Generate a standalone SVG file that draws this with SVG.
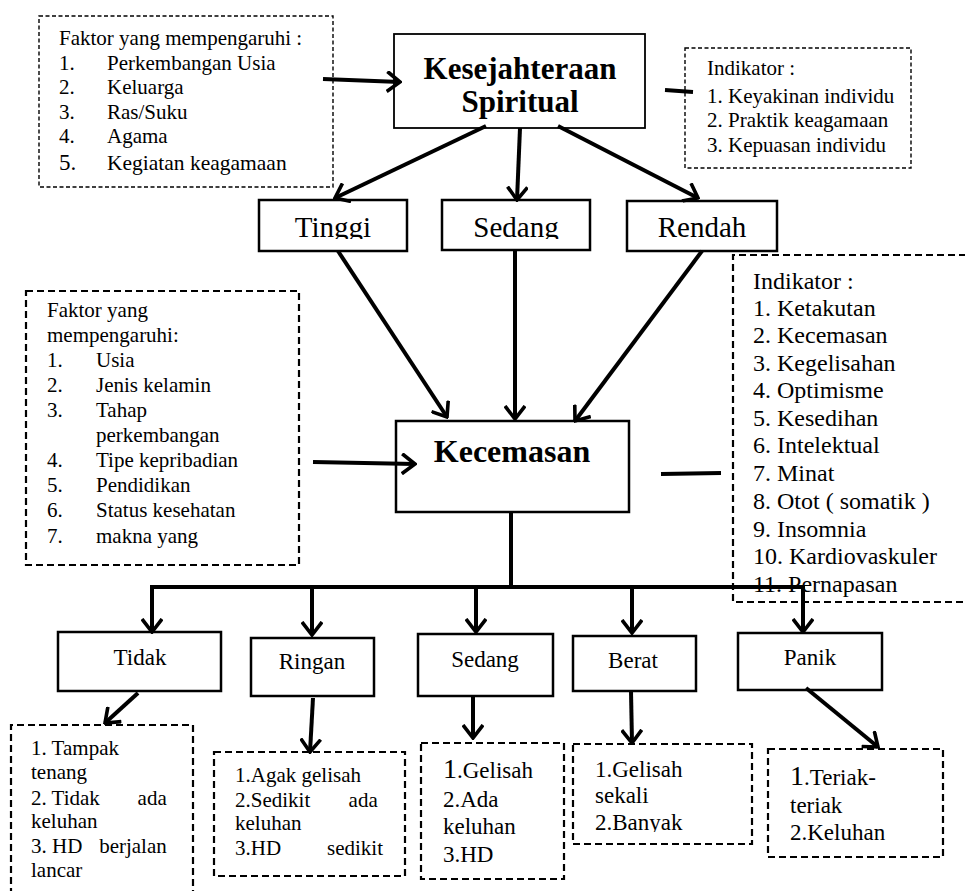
<svg xmlns="http://www.w3.org/2000/svg" width="965" height="891" viewBox="0 0 965 891">
<defs>
<style>
.t{font-family:"Liberation Serif","Times New Roman",serif;fill:#000}
.b{font-weight:bold}
.box{fill:#fff;stroke:#000;stroke-width:2.5}
.thin{stroke-width:1.8}
.dash{fill:none;stroke:#000;stroke-width:2.2;stroke-dasharray:7 4}
.fine{stroke-width:1.4;stroke-dasharray:4 2.5}
.c{fill:none;stroke:#000;stroke-width:4}
.a{marker-end:url(#ah)}
</style>
<marker id="ah" viewBox="0 0 16 22" refX="14" refY="11" markerWidth="16" markerHeight="22" markerUnits="userSpaceOnUse" orient="auto">
<path d="M1,1 L14,11 L1,21" fill="none" stroke="#000" stroke-width="3.6"/>
</marker>
<clipPath id="clipMid"><rect x="250" y="195" width="540" height="44"/></clipPath>
<clipPath id="clipBerat"><rect x="573" y="744" width="179" height="88"/></clipPath>
</defs>
<rect width="965" height="891" fill="#fff"/>

<g id="faktor-spiritual">
<rect class="dash fine" x="39" y="16" width="294" height="171"/>
<text class="t" font-size="21">
<tspan x="59" y="45">Faktor yang mempengaruhi :</tspan>
<tspan x="59" y="70">1.</tspan><tspan x="107" y="70">Perkembangan Usia</tspan>
<tspan x="59" y="94">2.</tspan><tspan x="107" y="94">Keluarga</tspan>
<tspan x="59" y="119">3.</tspan><tspan x="107" y="119">Ras/Suku</tspan>
<tspan x="59" y="143">4.</tspan><tspan x="107" y="143">Agama</tspan>
<tspan x="59" y="170" font-size="23">5.</tspan><tspan x="107" y="170" font-size="21.5">Kegiatan keagamaan</tspan>
</text>
</g>

<g id="kesejahteraan">
<rect class="box thin" x="394" y="34" width="251" height="94"/>
<text class="t b" font-size="31" text-anchor="middle"><tspan x="520" y="79">Kesejahteraan</tspan><tspan x="520" y="112">Spiritual</tspan></text>
</g>

<g id="indikator-spiritual">
<rect class="dash fine" x="685" y="48" width="226" height="120"/>
<text class="t" font-size="21">
<tspan x="707" y="75">Indikator :</tspan>
<tspan x="707" y="103">1. Keyakinan individu</tspan>
<tspan x="707" y="127">2. Praktik keagamaan</tspan>
<tspan x="707" y="152">3. Kepuasan individu</tspan>
</text>
</g>

<g id="tinggi">
<rect class="box" x="259" y="200" width="148" height="51"/>
<text class="t" font-size="29" text-anchor="middle" x="333" y="237" clip-path="url(#clipMid)">Tinggi</text>
</g>
<g id="sedang-spiritual">
<rect class="box" x="442" y="200" width="148" height="50"/>
<text class="t" font-size="29" text-anchor="middle" x="516" y="237" clip-path="url(#clipMid)">Sedang</text>
</g>
<g id="rendah">
<rect class="box" x="627" y="201" width="150" height="50"/>
<text class="t" font-size="29" text-anchor="middle" x="702" y="237" clip-path="url(#clipMid)">Rendah</text>
</g>

<g id="faktor-kecemasan">
<rect class="dash" x="26" y="291" width="273" height="274"/>
<text class="t" font-size="21">
<tspan x="47" y="317">Faktor yang</tspan>
<tspan x="47" y="342">mempengaruhi:</tspan>
<tspan x="47" y="367">1.</tspan><tspan x="96" y="367">Usia</tspan>
<tspan x="47" y="392">2.</tspan><tspan x="96" y="392">Jenis kelamin</tspan>
<tspan x="47" y="417">3.</tspan><tspan x="96" y="417">Tahap</tspan>
<tspan x="96" y="442">perkembangan</tspan>
<tspan x="47" y="467">4.</tspan><tspan x="96" y="467">Tipe kepribadian</tspan>
<tspan x="47" y="492">5.</tspan><tspan x="96" y="492">Pendidikan</tspan>
<tspan x="47" y="517">6.</tspan><tspan x="96" y="517">Status kesehatan</tspan>
<tspan x="47" y="543">7.</tspan><tspan x="96" y="543">makna yang</tspan>
</text>
</g>

<g id="indikator-kecemasan">
<path class="dash" d="M966,255 H733 V602 H966"/>
<text class="t" font-size="24">
<tspan x="753" y="289">Indikator :</tspan>
<tspan x="753" y="316">1. Ketakutan</tspan>
<tspan x="753" y="343">2. Kecemasan</tspan>
<tspan x="753" y="371">3. Kegelisahan</tspan>
<tspan x="753" y="398">4. Optimisme</tspan>
<tspan x="753" y="426">5. Kesedihan</tspan>
<tspan x="753" y="453">6. Intelektual</tspan>
<tspan x="753" y="481">7. Minat</tspan>
<tspan x="753" y="509">8. Otot ( somatik )</tspan>
<tspan x="753" y="537">9. Insomnia</tspan>
<tspan x="753" y="564">10. Kardiovaskuler</tspan>
<tspan x="753" y="592">11. Pernapasan</tspan>
</text>
</g>

<g id="kecemasan">
<rect class="box" x="396" y="421" width="233" height="91"/>
<text class="t b" font-size="32" text-anchor="middle" x="512" y="462">Kecemasan</text>
</g>

<g id="tidak">
<rect class="box" x="58" y="632" width="163" height="59"/>
<text class="t" font-size="23" text-anchor="middle" x="140" y="665">Tidak</text>
</g>
<g id="ringan">
<rect class="box" x="251" y="638" width="123" height="58"/>
<text class="t" font-size="23" text-anchor="middle" x="312" y="669">Ringan</text>
</g>
<g id="sedang">
<rect class="box" x="418" y="634" width="135" height="62"/>
<text class="t" font-size="23" text-anchor="middle" x="485" y="667">Sedang</text>
</g>
<g id="berat">
<rect class="box" x="573" y="636" width="123" height="55"/>
<text class="t" font-size="23" text-anchor="middle" x="633" y="668">Berat</text>
</g>
<g id="panik">
<rect class="box" x="738" y="633" width="144" height="57"/>
<text class="t" font-size="23" text-anchor="middle" x="810" y="665">Panik</text>
</g>

<g id="ciri-tidak">
<path class="dash" d="M11,895 V725 H193 V895"/>
<text class="t" font-size="21">
<tspan x="31" y="755">1. Tampak</tspan>
<tspan x="31" y="779">tenang</tspan>
<tspan x="31" y="805">2. Tidak</tspan><tspan x="172" y="805" text-anchor="end">ada</tspan>
<tspan x="31" y="828">keluhan</tspan>
<tspan x="31" y="853">3. HD</tspan><tspan x="172" y="853" text-anchor="end">berjalan</tspan>
<tspan x="31" y="877">lancar</tspan>
</text>
</g>
<g id="ciri-ringan">
<rect class="dash" x="214" y="752" width="191" height="124"/>
<text class="t" font-size="21">
<tspan x="235" y="782">1.Agak gelisah</tspan>
<tspan x="235" y="807">2.Sedikit</tspan><tspan x="383" y="807" text-anchor="end">ada</tspan>
<tspan x="235" y="830">keluhan</tspan>
<tspan x="235" y="855">3.HD</tspan><tspan x="383" y="855" text-anchor="end">sedikit</tspan>
</text>
</g>
<g id="ciri-sedang">
<rect class="dash" x="421" y="743" width="143" height="136"/>
<text class="t" font-size="23">
<tspan x="443" y="778"><tspan font-size="28">1</tspan>.Gelisah</tspan>
<tspan x="443" y="807">2.Ada</tspan>
<tspan x="443" y="834">keluhan</tspan>
<tspan x="443" y="862">3.HD</tspan>
</text>
</g>
<g id="ciri-berat">
<rect class="dash" x="573" y="744" width="179" height="100"/>
<text class="t" font-size="23" clip-path="url(#clipBerat)">
<tspan x="595" y="777">1.Gelisah</tspan>
<tspan x="595" y="803">sekali</tspan>
<tspan x="595" y="830">2.Banyak</tspan>
</text>
</g>
<g id="ciri-panik">
<rect class="dash" x="768" y="749" width="175" height="108"/>
<text class="t" font-size="23">
<tspan x="790" y="785"><tspan font-size="28">1</tspan>.Teriak-</tspan>
<tspan x="790" y="813">teriak</tspan>
<tspan x="790" y="840">2.Keluhan</tspan>
</text>
</g>

<g id="connectors">
<path class="c a" d="M323,79 L400,82"/>
<path class="c" d="M665,90 L693,92"/>
<path class="c a" d="M486,126 L335,198"/>
<path class="c a" d="M520,128 L517,200"/>
<path class="c a" d="M558,126 L698,198"/>
<path class="c a" d="M338,251 L447,417"/>
<path class="c a" d="M515,250 L515,419"/>
<path class="c a" d="M702,251 L575,421"/>
<path class="c a" d="M313,462 L415,464"/>
<path class="c" d="M661,474 L721,473"/>
<path class="c" d="M511,512 L511,587"/>
<path class="c" d="M150,587 L805,587"/>
<path class="c a" d="M152,587 L152,632"/>
<path class="c a" d="M312,589 L312,635"/>
<path class="c a" d="M476,587 L476,632"/>
<path class="c a" d="M632,587 L632,633"/>
<path class="c a" d="M803,587 L803,632"/>
<path class="c a" d="M138,693 L105,723"/>
<path class="c a" d="M313,698 L310,752"/>
<path class="c a" d="M473,696 L473,738"/>
<path class="c a" d="M631,691 L632,743"/>
<path class="c a" d="M806,688 L878,747"/>
</g>
</svg>
